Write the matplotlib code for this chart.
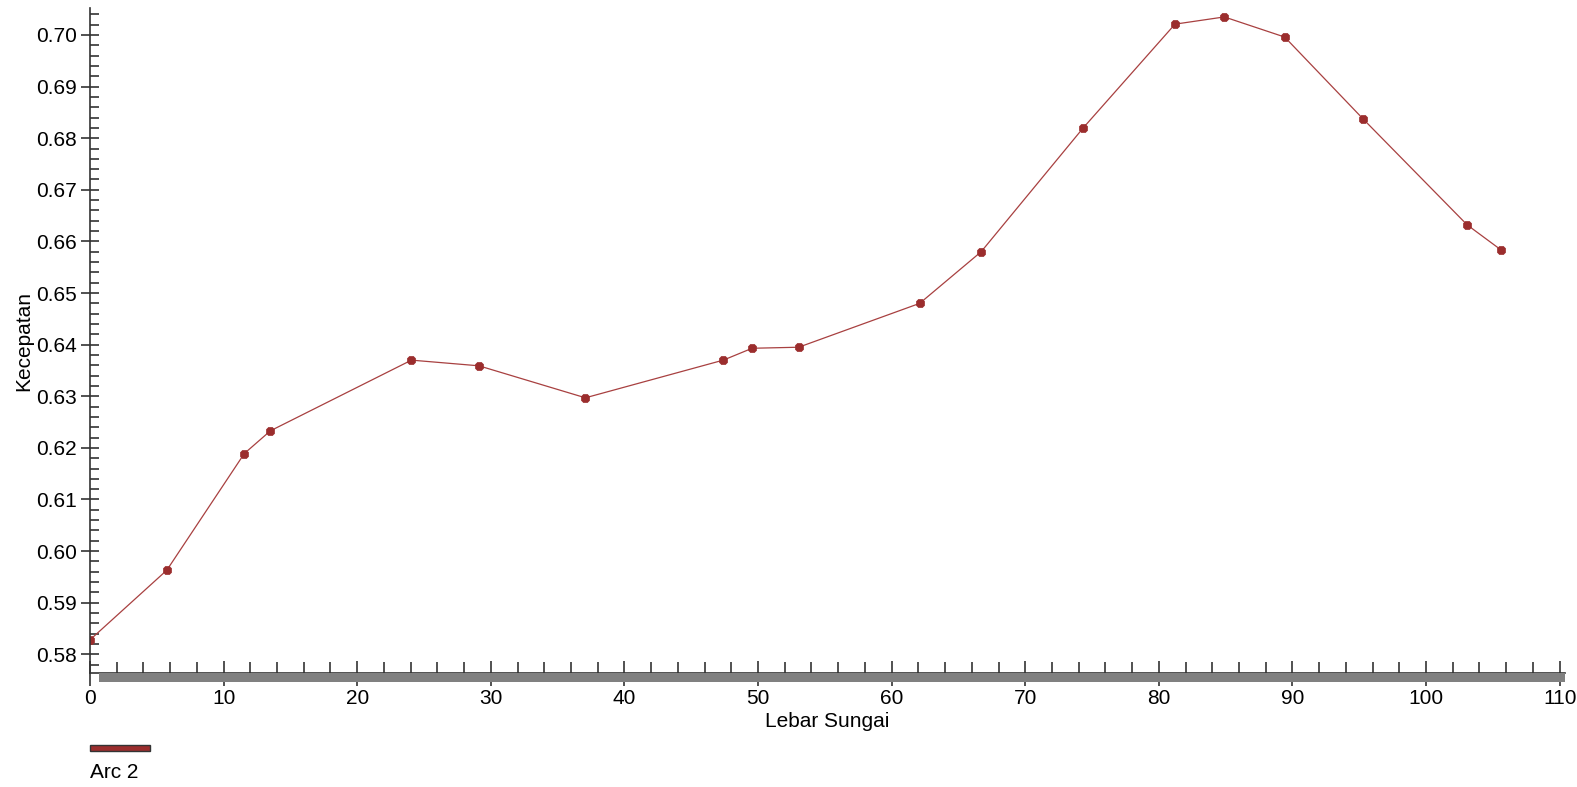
import matplotlib
matplotlib.use("Agg")
import matplotlib.pyplot as plt
from matplotlib.patches import Rectangle
from matplotlib.ticker import MultipleLocator

plt.rcParams['font.family'] = ['Liberation Sans', 'DejaVu Sans']

# Data
lebar_sungai = [0.0, 5.75, 11.55, 13.50, 24.06, 29.11, 37.08, 47.40, 49.56, 53.04,
                62.10, 66.70, 74.34, 81.21, 84.90, 89.42, 95.30, 103.08, 105.64]
kecepatan = [0.5828, 0.5963, 0.6189, 0.6233, 0.6370, 0.6359, 0.6297, 0.6370, 0.6393, 0.6395,
             0.6480, 0.6580, 0.6820, 0.7021, 0.7035, 0.6996, 0.6837, 0.6632, 0.6583]
series_name = "Arc 2"
x_label = "Lebar Sungai"
y_label = "Kecepatan"

W, H = 1577, 787
fig = plt.figure(figsize=(W / 100, H / 100), dpi=100)

left_px, right_px, top_px, bottom_px = 90, 1565, 8, 673.3
ax = fig.add_axes([left_px / W, 1 - bottom_px / H, (right_px - left_px) / W, (bottom_px - top_px) / H])

color = "#9B2D2D"
ax.plot(lebar_sungai, kecepatan, color="#A84040", linewidth=0.9,
        marker="8", markersize=6.8, markerfacecolor=color, markeredgecolor=color,
        markeredgewidth=0.5)

ax.set_xlim(0, 110.4)
ax.set_ylim(0.57632, 0.70523)

ax.xaxis.set_major_locator(MultipleLocator(10))
ax.xaxis.set_minor_locator(MultipleLocator(2))
ax.yaxis.set_major_locator(MultipleLocator(0.01))
ax.yaxis.set_minor_locator(MultipleLocator(0.002))
ax.yaxis.set_major_formatter(matplotlib.ticker.FormatStrFormatter('%.2f'))

for s in ['top', 'right']:
    ax.spines[s].set_visible(False)
for s in ['left', 'bottom']:
    ax.spines[s].set_color("#333333")
    ax.spines[s].set_linewidth(1.2)

fs = 15
ax.tick_params(axis='y', which='major', direction='inout', length=13, width=1.2,
               color="#333333", labelsize=fs, pad=3)
ax.tick_params(axis='y', which='minor', direction='in', length=6.5, width=1.2, color="#333333")
ax.tick_params(axis='x', which='major', direction='inout', length=18, width=1.2,
               color="#333333", labelsize=fs, pad=2)
ax.tick_params(axis='x', which='minor', direction='in', length=8, width=1.2, color="#333333")

ax.set_xlabel(x_label, fontsize=fs)
ax.set_ylabel(y_label, fontsize=fs)
ax.xaxis.set_label_coords(0.5, (bottom_px - 712) / (bottom_px - top_px))
ax.yaxis.set_label_coords(-(left_px - 33) / (right_px - left_px), 0.5)

# gray scroll band below x-axis
fig.patches.append(Rectangle((99 / W, 1 - 681.7 / H), (1565 - 99) / W, 8.4 / H,
                             transform=fig.transFigure, facecolor="#808080",
                             edgecolor="none", zorder=0))

# legend (swatch above label)
fig.patches.append(Rectangle((90 / W, 1 - 751 / H), 60 / W, 6 / H,
                             transform=fig.transFigure, facecolor=color,
                             edgecolor="#333333", linewidth=1.0))
fig.text(90 / W, 1 - 772 / H, series_name, fontsize=fs, ha='left', va='center')

fig.savefig("out.png", dpi=100)
